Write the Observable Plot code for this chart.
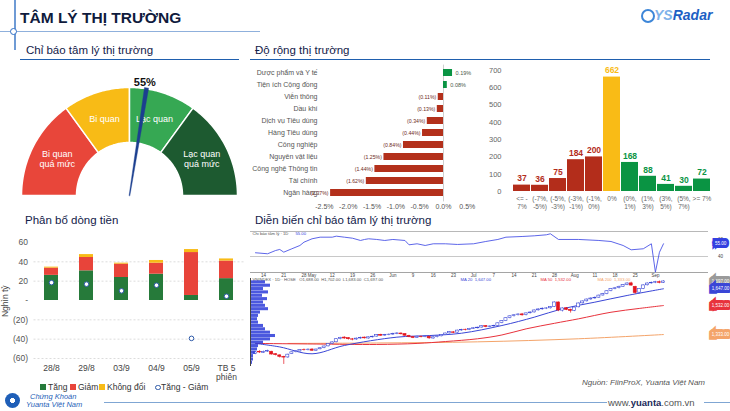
<!DOCTYPE html>
<html>
<head>
<meta charset="utf-8">
<script src="https://cdn.jsdelivr.net/npm/d3@7"></script>
<script src="https://cdn.jsdelivr.net/npm/@observablehq/plot@0.6"></script>
<style>
  body { margin: 0; background: #fff; font-family: "Liberation Sans", Arial, sans-serif; }
  #page { position: relative; width: 730px; height: 411px; overflow: hidden; background: #fff; }
  .abs { position: absolute; }
  .hdr { position: absolute; font-size: 11.5px; line-height: 1; color: #13214a; white-space: nowrap; }
  .line { position: absolute; }
  .leg { position: absolute; font-size: 8.5px; line-height: 1; color: #333; white-space: nowrap; }
  .sq { position: absolute; width: 6px; height: 6px; }
  svg { overflow: visible; }
</style>
</head>
<body>
<div id="page">
  <!-- header ornaments -->
  <div class="line" style="left:14px;top:0;width:1.5px;height:50px;background:#6f9bd5"></div>
  <div class="line" style="left:0;top:30.5px;width:260px;height:1.2px;background:#8fb0dc"></div>
  <div class="abs" style="left:10px;top:27.5px;width:5px;height:5px;border-radius:50%;border:1.2px solid #2f6fc6;background:#fff"></div>
  <div class="abs" style="left:20px;top:10px;font-size:15.5px;font-weight:bold;color:#0f1b3d;line-height:1;white-space:nowrap">TÂM LÝ THỊ TRƯỜNG</div>

  <!-- brand mark -->
  <div class="abs" style="left:641px;top:9px;width:10px;height:10px;border-radius:50%;border:2px solid #3d86d8"></div>
  <div class="abs" style="left:654px;top:8px;font-size:14px;font-weight:bold;font-style:italic;line-height:1;white-space:nowrap"><span style="color:#7fb2ea">YS</span><span style="color:#1d5fc4">Radar</span></div>

  <!-- section headers -->
  <div class="hdr" style="left:26px;top:44.6px">Chỉ báo tâm lý thị trường</div>
  <div class="line" style="left:20px;top:58.5px;width:219px;height:1.5px;background:#1f5fae"></div>
  <div class="hdr" style="left:255px;top:44.6px">Độ rộng thị trường</div>
  <div class="line" style="left:250px;top:58.5px;width:460px;height:1.5px;background:#1f5fae"></div>
  <div class="hdr" style="left:25px;top:214.6px">Phân bổ dòng tiền</div>
  <div class="hdr" style="left:255px;top:215px">Diễn biến chỉ báo tâm lý thị trường</div>

  <!-- chart slots -->
  <div id="gauge" class="abs" style="left:15px;top:62px"></div>
  <div id="sectors" class="abs" style="left:250px;top:62px"></div>
  <div id="hist" class="abs" style="left:480px;top:62px"></div>
  <div id="flow" class="abs" style="left:0;top:232px"></div>
  <div class="abs" style="left:-11px;top:297px;font-size:8.5px;color:#444;transform:rotate(-90deg);white-space:nowrap;line-height:1">Nghìn tỷ</div>

  <!-- flow legend -->
  <div class="sq" style="left:40px;top:384px;background:#267a3a"></div><div class="leg" style="left:48px;top:383px">Tăng</div>
  <div class="sq" style="left:70px;top:384px;background:#e8443a"></div><div class="leg" style="left:78px;top:383px">Giảm</div>
  <div class="sq" style="left:99px;top:384px;background:#f8bb16"></div><div class="leg" style="left:107px;top:383px">Không đổi</div>
  <div class="abs" style="left:155px;top:384.5px;width:3.5px;height:3.5px;border-radius:50%;border:1px solid #2d59a8;background:#fff"></div><div class="leg" style="left:161px;top:383px">Tăng - Giảm</div>

  <!-- sentiment history panels -->
  <div class="line" style="left:250px;top:231px;width:458px;height:1px;background:#b8b8b8"></div>
  <div class="line" style="left:250px;top:256px;width:458px;height:1px;background:#c8c8c8"></div>
  <div class="line" style="left:250px;top:271.5px;width:458px;height:1.5px;background:#a5a5a5"></div>
  <div id="topPanel" class="abs" style="left:250px;top:229px"></div>
  <div id="lowPanel" class="abs" style="left:250px;top:276px"></div>
  <div id="profile" class="abs" style="left:250px;top:276px"></div>
  <div class="line" style="left:250px;top:278px;width:1px;height:88px;background:#444"></div>

  <!-- footer -->
  <div class="abs" style="right:25px;top:379px;font-size:8px;font-style:italic;color:#555;line-height:1;white-space:nowrap">Nguồn: FiinProX, Yuanta Việt Nam</div>
  <div class="line" style="left:104px;top:401.5px;width:503px;height:1.8px;background:#7fa6d3"></div>
  <div class="line" style="left:704px;top:401.5px;width:26px;height:1.8px;background:#7fa6d3"></div>
  <div class="abs" style="left:608px;top:397.5px;font-size:9.5px;line-height:1;white-space:nowrap;color:#555">www.<b style="color:#1a2a5a">yuanta</b>.com.vn</div>
  <div class="abs" style="left:5px;top:393px;width:15px;height:15px;border-radius:50%;background:radial-gradient(circle,#fff 0 22%,#1f5fb8 24% 100%)"></div>
  <div class="abs" style="left:30px;top:393px;font-size:7.5px;font-style:italic;color:#1f5fb8;line-height:1;white-space:nowrap">Chứng Khoán</div>
  <div class="abs" style="left:26px;top:401px;font-size:7.5px;font-style:italic;color:#1f5fb8;line-height:1;white-space:nowrap">Yuanta Việt Nam</div>
</div>

<script>
// ---------- data ----------
// market sentiment gauge
const sentimentValue = 55;
const zoneBreaks = [0, 30, 50, 70, 100];
const zoneNames = ["Bi quan\nquá mức", "Bi quan", "Lạc quan", "Lạc quan\nquá mức"];
const zoneColors = ["#e8463a", "#f8bb16", "#36a853", "#1d5a30"];

// sector breadth (% change)
const sectors = ["Dược phẩm và Y tế", "Tiện ích Cộng đồng", "Viễn thông", "Dầu khí", "Dịch vụ Tiêu dùng",
  "Hàng Tiêu dùng", "Công nghiệp", "Nguyên vật liệu", "Công nghệ Thông tin", "Tài chính", "Ngân hàng"];
const sectorChange = [0.19, 0.08, -0.11, -0.13, -0.34, -0.44, -0.84, -1.25, -1.44, -1.62, -2.37];
const sectorTicks = [-2.5, -2.0, -1.5, -1.0, -0.5, 0.0, 0.5];

// number of stocks by daily change bucket
const changeBins = ["<= -\n7%", "(-7%,\n-5%)", "(-5%,\n-3%)", "(-3%,\n-1%)", "(-1%,\n0%)", "0%",
  "(0%,\n1%)", "(1%,\n3%)", "(3%,\n5%)", "(5%,\n7%)", ">= 7%"];
const stockCounts = [37, 36, 75, 184, 200, 662, 168, 88, 41, 30, 72];

// money flow (nghìn tỷ)
const flowSessions = ["28/8", "29/8", "03/9", "04/9", "05/9", "TB 5\nphiên"];
const flowUp = [26.0, 30.7, 23.8, 27.2, 5.2, 22.6];
const flowDown = [7.5, 13.8, 13.8, 11.4, 44.4, 18.2];
const flowFlat = [1.0, 3.0, 1.0, 2.8, 3.1, 2.2];
const flowTicks = [-60, -40, -20, 0, 20, 40, 60];

// sentiment indicator history (session index, value)
const indicatorSession = [0, 3, 5, 6, 7, 9, 11, 12, 14, 16, 19, 20, 22, 24, 26, 27, 28, 30, 32, 34, 37, 38, 40, 42, 44, 47,
  50, 54, 57, 60, 62, 66, 69, 72, 73, 75, 80, 85, 88, 91, 93, 96, 98, 99, 100, 101];
const indicatorValue = [44.4, 43.2, 47.1, 48.3, 45.1, 49.1, 53.0, 56.9, 60.9, 62.8, 62.8, 64.0, 62.8, 61.6, 58.9, 60.1, 60.9,
  60.1, 58.9, 60.1, 58.9, 53.8, 55.0, 53.0, 55.0, 55.0, 54.2, 55.0, 57.7, 60.1, 62.8, 63.6, 64.4, 65.6, 66.8, 60.1, 60.1,
  58.9, 57.7, 53.0, 47.9, 49.1, 55.0, 21.5, 45.0, 55.0];

// weekly date labels (session index of each Monday)
const dateTickSession = [2, 7, 12, 14, 19, 24, 29, 34, 39, 44, 49, 54, 59, 64, 69, 74, 79, 84, 89, 94, 99];
const dateTickLabel = ["14", "21", "28", "May", "12", "19", "26", "Jun", "9", "16", "23", "Jul", "7", "14", "21", "28",
  "Aug", "11", "18", "25", "Sep"];

// VN-Index daily sessions
const sessionOpen = [1200,1215,1208,1216,1215,1198,1190,1178,1176,1200,1212,1217,1228,1226,1230,1222,1232,1240,1252,1270,
  1280,1302,1312,1308,1300,1299,1306,1312,1306,1314,1319,1331,1326,1330,1333,1338,1340,1336,1324,1315,
  1311,1318,1316,1318,1306,1315,1321,1330,1341,1348,1346,1361,1366,1364,1372,1376,1381,1391,1386,1389,
  1393,1411,1426,1446,1459,1466,1471,1466,1479,1485,1499,1506,1511,1513,1522,1553,1497,1513,1503,1496,
  1520,1547,1561,1574,1581,1586,1601,1611,1631,1646,1651,1661,1673,1684,1660,1620,1646,1671,1684,1689,
  1692,1688];
const sessionHigh = [1218,1222,1220,1226,1218,1203,1194,1184,1198,1214,1222,1230,1234,1235,1236,1233,1243,1254,1271,1284,
  1304,1314,1318,1312,1306,1309,1315,1316,1317,1322,1333,1335,1334,1337,1342,1346,1344,1339,1328,1320,
  1322,1323,1324,1321,1318,1324,1333,1343,1354,1353,1363,1369,1370,1375,1380,1384,1393,1395,1392,1397,
  1413,1428,1448,1462,1470,1476,1478,1481,1489,1502,1510,1516,1518,1525,1557,1556,1516,1518,1507,1522,
  1550,1564,1577,1585,1591,1604,1615,1634,1649,1656,1665,1676,1688,1692,1664,1649,1674,1687,1693,1698,
  1700,1702];
const sessionLow = [1195,1203,1204,1210,1192,1186,1172,1128,1170,1196,1207,1213,1220,1221,1217,1218,1228,1236,1248,1265,
  1276,1297,1300,1295,1290,1294,1301,1302,1301,1309,1315,1320,1321,1325,1328,1332,1330,1320,1311,1305,
  1306,1310,1311,1300,1301,1310,1317,1326,1337,1339,1342,1356,1358,1360,1368,1371,1377,1380,1381,1384,
  1389,1407,1422,1441,1453,1460,1459,1461,1474,1480,1494,1500,1504,1508,1518,1490,1488,1497,1480,1490,
  1516,1542,1556,1568,1575,1581,1596,1606,1626,1640,1646,1656,1668,1664,1610,1612,1641,1666,1679,1682,
  1681,1683];
const sessionClose = [1211,1210,1214,1219,1196,1192,1180,1175,1195,1211,1218,1227,1226,1229,1222,1230,1239,1251,1268,1279,
  1301,1310,1306,1301,1298,1305,1310,1307,1314,1318,1330,1325,1330,1332,1337,1340,1335,1325,1316,1310,
  1318,1315,1320,1307,1314,1320,1330,1340,1350,1345,1360,1365,1364,1372,1376,1380,1390,1385,1388,1392,
  1410,1425,1445,1458,1465,1470,1465,1478,1484,1498,1505,1510,1512,1521,1553,1498,1512,1502,1495,1518,
  1546,1560,1573,1580,1585,1600,1610,1630,1645,1650,1660,1672,1683,1669,1618,1645,1670,1683,1688,1692,
  1688,1697];

// moving averages (session index, level)
const maFastSession = [0, 6, 14, 22, 35, 43, 51, 61, 69, 76, 84, 92, 101];
const maFastValue = [1272, 1248, 1201, 1258, 1315, 1326, 1342, 1395, 1452, 1510, 1555, 1601, 1647];
const maMidSession = [0, 15, 30, 40, 47, 55, 61, 67, 74, 80, 88, 95, 101];
const maMidValue = [1272, 1268, 1265, 1272, 1285, 1304, 1330, 1372, 1410, 1441, 1486, 1512, 1532];
const maSlowSession = [8, 30, 55, 80, 101];
const maSlowValue = [1272, 1275, 1283, 1304, 1333];

// volume profile (price bin centre, relative volume)
const profilePrice = [1692, 1669, 1646, 1623, 1600, 1577, 1554, 1531, 1508, 1485, 1462, 1439, 1416, 1393, 1370, 1347,
  1324, 1301, 1278, 1255, 1232, 1209, 1186, 1163, 1140];
const profileVolume = [15, 20, 13, 18, 12, 17, 13, 15, 18, 10, 8, 7, 8, 13, 15, 20, 25, 20, 13, 8, 7, 5, 3, 3, 2];

// ---------- drawing ----------
const FONT = '"Liberation Sans", Arial, sans-serif';
const baseStyle = (size, color) => ({fontFamily: FONT, fontSize: size, color, background: "transparent", overflow: "visible"});
const mount = (id, node) => document.getElementById(id).appendChild(node);

// gauge
{
  const cx = 114, cy = 133, rOuter = 108, rInner = 53;
  const angleOf = p => Math.PI * (1 - p / 100);
  const polar = (p, r) => ({x: cx + r * Math.cos(angleOf(p)), y: cy - r * Math.sin(angleOf(p))});
  const ring = (p0, p1) => {
    const steps = d3.range(0, 41).map(i => p0 + (p1 - p0) * i / 40);
    return [...steps.map(p => polar(p, rOuter)), ...steps.slice().reverse().map(p => polar(p, rInner))];
  };
  const zones = zoneNames.map((name, i) => ({name, color: zoneColors[i], p0: zoneBreaks[i], p1: zoneBreaks[i + 1]}));
  const a = angleOf(sentimentValue);
  const perp = [Math.sin(a), Math.cos(a)];
  const tip = polar(sentimentValue, 109);
  const needle = [
    {x: cx + perp[0] * 0.4, y: cy + perp[1] * 0.4},
    {x: tip.x + perp[0] * 2.1, y: tip.y + perp[1] * 2.1},
    {x: tip.x - perp[0] * 2.1, y: tip.y - perp[1] * 2.1},
    {x: cx - perp[0] * 0.4, y: cy - perp[1] * 0.4}
  ];
  mount("gauge", Plot.plot({
    width: 230, height: 150, margin: 0,
    x: {domain: [0, 230], range: [0, 230], axis: null},
    y: {domain: [0, 150], range: [0, 150], axis: null},
    style: baseStyle("9px", "#111"),
    marks: [
      ...zones.map(z => Plot.line(ring(z.p0, z.p1), {x: "x", y: "y", fill: z.color, stroke: "white", strokeWidth: 1.5, curve: "linear-closed"})),
      Plot.text(zones, {
        x: z => polar((z.p0 + z.p1) / 2, 81).x, y: z => polar((z.p0 + z.p1) / 2, 81).y,
        text: "name", fill: "white", fontSize: 9, lineHeight: 1.15
      }),
      Plot.line(needle, {x: "x", y: "y", fill: "#1b3f8f", stroke: "#1b3f8f", strokeWidth: 0.4, curve: "linear-closed"}),
      Plot.text([sentimentValue], {
        x: d => polar(d, 111).x, y: d => polar(d, 111).y, text: d => `${d}%`,
        lineAnchor: "bottom", dx: -2, fontSize: 11, fontWeight: "bold", fill: "#111"
      })
    ]
  }));
}

// sector breadth
{
  const rows = sectors.map((name, i) => ({name, v: sectorChange[i]}));
  const fmt = d => d.v >= 0 ? `${d.v.toFixed(2)}%` : `(${(-d.v).toFixed(2)}%)`;
  mount("sectors", Plot.plot({
    width: 230, height: 152, marginLeft: 72, marginRight: 10, marginTop: 2.6, marginBottom: 12.6,
    style: baseStyle("7px", "#555"),
    x: {domain: [-2.54, 0.567], ticks: sectorTicks, tickFormat: d => `${d.toFixed(1)}%`, tickSize: 0, tickPadding: 2, label: null},
    y: {domain: sectors, padding: 0.4, tickSize: 0, tickPadding: 5, label: null},
    marks: [
      Plot.ruleX([0], {stroke: "#cfcfcf", strokeWidth: 1}),
      Plot.barX(rows, {x: "v", y: "name", fill: d => d.v >= 0 ? "#0a9443" : "#b3301b"}),
      Plot.text(rows.filter(d => d.v >= 0), {x: "v", y: "name", text: fmt, dx: 3, textAnchor: "start", fontSize: 5.5, fill: "#4a5a4a"}),
      Plot.text(rows.filter(d => d.v < 0), {x: "v", y: "name", text: fmt, dx: -2, textAnchor: "end", fontSize: 5.2, fill: "#6d2a22"})
    ]
  }));
}

// distribution histogram
{
  const zeroIdx = changeBins.indexOf("0%");
  const rows = changeBins.map((bin, i) => ({
    bin, n: stockCounts[i],
    color: i < zeroIdx ? "#b32d1b" : i === zeroIdx ? "#f9bb16" : "#0a9443"
  }));
  mount("hist", Plot.plot({
    width: 250, height: 155, marginLeft: 30, marginRight: 18, marginTop: 8, marginBottom: 26,
    style: baseStyle("7.5px", "#666"),
    x: {domain: changeBins, padding: 0.06, axis: null},
    y: {domain: [0, 700], ticks: d3.range(0, 701, 100), tickSize: 0, tickPadding: 9, label: null},
    marks: [
      Plot.barY(rows, {x: "bin", y: "n", fill: "color"}),
      Plot.text(rows, {x: "bin", y: "n", text: d => String(d.n), dy: -6.5, fill: "color", fontSize: 8.5, fontWeight: "bold"}),
      Plot.text(rows, {x: "bin", y: 0, text: "bin", dy: 3.7, lineAnchor: "top", fontSize: 6.5, lineHeight: 1.2, fill: "#666"})
    ]
  }));
}

// money flow
{
  const rows = flowSessions.flatMap((s, i) => [
    {s, type: "Tăng", v: flowUp[i]},
    {s, type: "Giảm", v: flowDown[i]},
    {s, type: "Không đổi", v: flowFlat[i]}
  ]);
  const net = flowSessions.map((s, i) => ({s, v: flowUp[i] - flowDown[i]}));
  mount("flow", Plot.plot({
    width: 245, height: 150, marginLeft: 33.5, marginRight: 1.5, marginTop: 10, marginBottom: 24,
    style: baseStyle("8.5px", "#555"),
    x: {domain: flowSessions, paddingInner: 0.6, paddingOuter: 0.3, axis: null},
    y: {domain: [-60, 60], ticks: flowTicks, tickSize: 0, tickPadding: 6, label: null,
        tickFormat: v => v === 0 ? "-" : v < 0 ? `(${-v})` : String(v)},
    color: {domain: ["Tăng", "Giảm", "Không đổi"], range: ["#267a3a", "#e8443a", "#f8bb16"]},
    marks: [
      Plot.ruleY(flowTicks.filter(t => t !== 0 && t !== 60), {stroke: "#dcdcdc", strokeDasharray: "2,2"}),
      Plot.barY(rows, {x: "s", y: "v", fill: "type"}),
      Plot.dot(net, {x: "s", y: "v", r: 2.3, fill: "white", stroke: "#2d59a8", strokeWidth: 1}),
      Plot.text(flowSessions, {x: d => d, y: -60, text: d => d, dy: 6.5, lineAnchor: "top", fontSize: 8.5, lineHeight: 1.05, fill: "#444"})
    ]
  }));
}

// sentiment indicator history and VN-Index
{
  const fmt2 = d3.format(",.2f");
  const indicator = indicatorSession.map((s, i) => ({s, v: indicatorValue[i]}));
  const lastIndicator = indicator[indicator.length - 1];
  const ticks = dateTickSession.map((s, i) => ({s, t: dateTickLabel[i]}));

  mount("topPanel", Plot.plot({
    width: 480, height: 47, marginLeft: 5, marginRight: 67, marginTop: 2, marginBottom: 4,
    style: baseStyle("4.5px", "#444"),
    x: {domain: [0, 101], axis: null},
    y: {domain: [21.1, 69.5], axis: null},
    marks: [
      Plot.line(indicator, {x: "s", y: "v", stroke: "#4b55e6", strokeWidth: 0.9}),
      Plot.text(ticks, {x: "s", y: 21.1, text: "t", dy: 1.2, lineAnchor: "top", fontSize: 4.5, fill: "#444"}),
      Plot.text([40, 60], {x: 101, y: d => d, text: d => String(d), dx: 57, fontSize: 4.5, fill: "#444"}),
      Plot.text([lastIndicator], {x: 101, y: "v", text: d => d.v.toFixed(2), dx: 57, fontSize: 4.5, fill: "white",
        stroke: "#3340e0", strokeWidth: 6, strokeLinejoin: "miter", paintOrder: "stroke"}),
      Plot.text(["Chỉ báo tâm lý · 1D"], {frameAnchor: "top-left", text: d => d, dx: -3, dy: 1, lineAnchor: "top", fontSize: 4.2, fill: "#555"}),
      Plot.text([lastIndicator], {frameAnchor: "top-left", text: d => d.v.toFixed(2), dx: 40, dy: 1, lineAnchor: "top", fontSize: 4.2, fill: "#3340e0"})
    ]
  }));

  const candles = sessionClose.map((c, s) => ({s, o: sessionOpen[s], h: sessionHigh[s], l: sessionLow[s], c}));
  const up = d => d.c >= d.o;
  const candleColor = d => up(d) ? "#3a46d6" : "#e3141e";
  const maFast = maFastSession.map((s, i) => ({s, v: maFastValue[i]}));
  const maMid = maMidSession.map((s, i) => ({s, v: maMidValue[i]}));
  const maSlow = maSlowSession.map((s, i) => ({s, v: maSlowValue[i]}));
  const last = candles[candles.length - 1];
  const priceTags = [
    {v: last.c, color: "#9a9a9a"},
    {v: maFastValue[maFastValue.length - 1], color: "#3a46d6"},
    {v: maMidValue[maMidValue.length - 1], color: "#e8323c"},
    {v: maSlowValue[maSlowValue.length - 1], color: "#f4a46a"}
  ];
  const priceDomain = [1113.8, 1717.4];

  mount("lowPanel", Plot.plot({
    width: 480, height: 92, marginLeft: 5, marginRight: 67, marginTop: 2, marginBottom: 2,
    style: baseStyle("4.5px", "#444"),
    x: {domain: [0, 101], axis: null},
    y: {domain: priceDomain, axis: null},
    marks: [
      Plot.line(maSlow, {x: "s", y: "v", stroke: "#f4a46a", strokeWidth: 1, curve: "catmull-rom"}),
      Plot.line(maMid, {x: "s", y: "v", stroke: "#e8323c", strokeWidth: 1, curve: "catmull-rom"}),
      Plot.line(maFast, {x: "s", y: "v", stroke: "#3a46d6", strokeWidth: 1, curve: "catmull-rom"}),
      Plot.ruleX(candles, {x: "s", y1: "l", y2: "h", stroke: candleColor, strokeWidth: 0.7}),
      Plot.rect(candles, {x1: d => d.s - 0.38, x2: d => d.s + 0.38, y1: "o", y2: "c",
        fill: d => up(d) ? "white" : "#e3141e", stroke: candleColor, strokeWidth: 0.6}),
      Plot.text(priceTags, {x: 101, y: "v", text: d => fmt2(d.v), dx: 57, fontSize: 4.5, fill: "white",
        stroke: "color", strokeWidth: 6, strokeLinejoin: "miter", paintOrder: "stroke"}),
      Plot.text([last], {frameAnchor: "top-left", dx: -3, dy: 0, lineAnchor: "top", fontSize: 4.2, fill: "#555",
        text: d => `VNINDEX · 1D · HOSE   O${fmt2(d.o)}  H${fmt2(d.h)}  L${fmt2(d.l)}  C${fmt2(d.c)}`}),
      Plot.text([maFastValue[maFastValue.length - 1]], {frameAnchor: "top-left", dx: 205, lineAnchor: "top", fontSize: 4.2, fill: "#3a46d6", text: d => `MA 20  ${fmt2(d)}`}),
      Plot.text([maMidValue[maMidValue.length - 1]], {frameAnchor: "top-left", dx: 285, lineAnchor: "top", fontSize: 4.2, fill: "#e8323c", text: d => `MA 50  ${fmt2(d)}`}),
      Plot.text([maSlowValue[maSlowValue.length - 1]], {frameAnchor: "top-left", dx: 342, lineAnchor: "top", fontSize: 4.2, fill: "#f4a46a", text: d => `MA 200  ${fmt2(d)}`})
    ]
  }));

  const profile = profilePrice.map((p, i) => ({p, vol: profileVolume[i]}));
  mount("profile", Plot.plot({
    width: 30, height: 92, marginLeft: 0, marginRight: 0, marginTop: 2, marginBottom: 2,
    style: baseStyle("4.5px", "#444"),
    x: {domain: [0, 30], axis: null},
    y: {domain: priceDomain, axis: null},
    marks: [
      Plot.rectX(profile, {x: "vol", y1: d => d.p - 11.5, y2: d => d.p + 11.5, fill: "#2b3bd8", fillOpacity: 0.85, insetTop: 0.3})
    ]
  }));
}
</script>
</body>
</html>
